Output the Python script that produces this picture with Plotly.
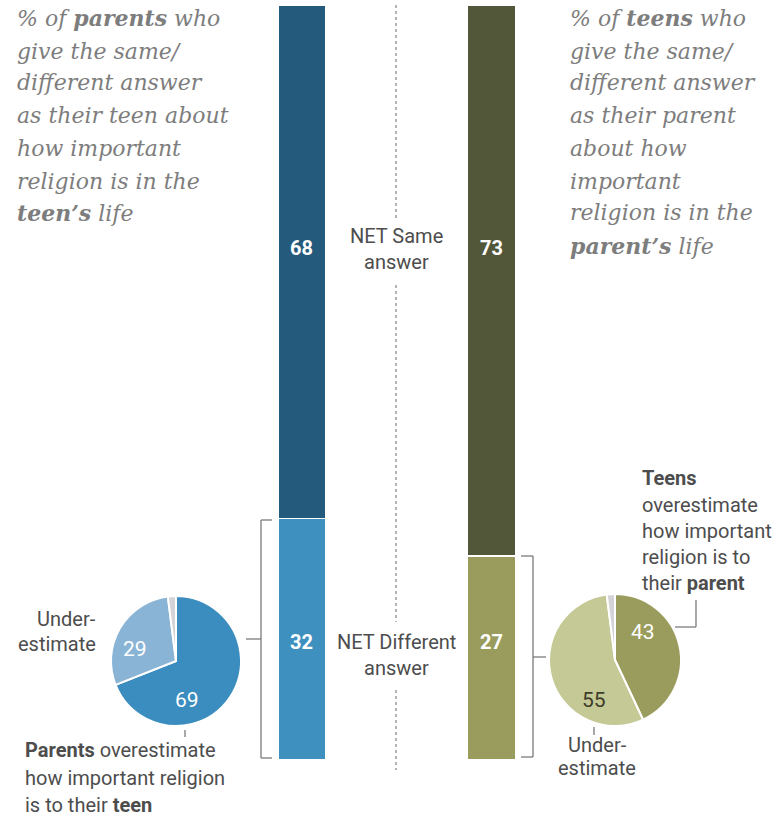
import plotly.graph_objects as go

W, H = 775, 816

# ---- data ----
groups = ["Parents", "Teens"]
net_same = [68, 73]
net_diff = [32, 27]
pie_labels = ["Overestimate", "Underestimate", "Other"]
parents_pie = [69, 29, 2]
teens_pie = [43, 55, 2]

# ---- styles ----
dark_blue, light_blue = "#245a7c", "#3e90be"
dark_olive, light_olive = "#52573a", "#999c5c"
pie_blue = ["#3b8dbf", "#89b4d5", "#d4d4d8"]
pie_olive = ["#999c5c", "#c5c995", "#d4d4d8"]
gray_line = "#7a7a7a"
title_col = "#7d7d7d"
text_col = "#4d4d4d"
SERIF = "DejaVu Serif"
SANS = "Roboto"


def px(x):
    return x / W


def py(y):
    return 1 - y / H


fig = go.Figure()

# bars (stacked): different at bottom, same on top
fig.add_trace(go.Bar(
    x=groups, y=net_diff, width=0.2533,
    marker=dict(color=[light_blue, light_olive], line=dict(color="white", width=1.5)),
    hoverinfo="skip", showlegend=False))
fig.add_trace(go.Bar(
    x=groups, y=net_same, width=0.2533,
    marker=dict(color=[dark_blue, dark_olive], line=dict(color="white", width=1.5)),
    hoverinfo="skip", showlegend=False))

# pies
fig.add_trace(go.Pie(
    values=parents_pie, labels=pie_labels, sort=False, direction="clockwise", rotation=0,
    marker=dict(colors=pie_blue, line=dict(color="white", width=2)),
    textinfo="none", hoverinfo="skip", showlegend=False,
    domain=dict(x=[px(111), px(241)], y=[py(726), py(596)])))
fig.add_trace(go.Pie(
    values=teens_pie, labels=pie_labels, sort=False, direction="clockwise", rotation=0,
    marker=dict(colors=pie_olive, line=dict(color="white", width=2)),
    textinfo="none", hoverinfo="skip", showlegend=False,
    domain=dict(x=[px(549), px(681)], y=[py(726), py(594)])))

# bar axis geometry
scale = 189.5
r0 = -302 / scale
r1 = r0 + W / scale

fig.update_layout(
    width=W, height=H, margin=dict(l=0, r=0, t=0, b=0),
    paper_bgcolor="white", plot_bgcolor="white",
    barmode="stack", showlegend=False, hovermode=False,
    xaxis=dict(range=[r0, r1], domain=[0, 1], visible=False, fixedrange=True),
    yaxis=dict(range=[0, 100], domain=[py(760), py(5)], visible=False, fixedrange=True),
)

ann = []


def add_text(x, y, text, size, color, family, xanchor="left"):
    ann.append(dict(x=px(x), y=py(y), xref="paper", yref="paper", text=text,
                    showarrow=False, xanchor=xanchor, yanchor="middle",
                    font=dict(size=size, color=color, family=family)))


# titles
left_title = ["% of <b>parents</b> who", "give the same/", "different answer",
              "as their teen about", "how important", "religion is in the",
              "<b>teen\u2019s</b> life"]
right_title = ["% of <b>teens</b> who", "give the same/", "different answer",
               "as their parent", "about how", "important", "religion is in the",
               "<b>parent\u2019s</b> life"]
ys = [18, 51, 83, 116, 148, 181, 213, 246]
for i, t in enumerate(left_title):
    add_text(15, ys[i], "<i>" + t + "</i>", 22, title_col, SERIF)
for i, t in enumerate(right_title):
    add_text(568, ys[i], "<i>" + t + "</i>", 22, title_col, SERIF)

SZ = 20
# bar value labels
add_text(301, 248, "<b>%d</b>" % net_same[0], SZ, "white", SANS, "center")
add_text(491, 248, "<b>%d</b>" % net_same[1], SZ, "white", SANS, "center")
add_text(301, 642, "<b>%d</b>" % net_diff[0], SZ, "white", SANS, "center")
add_text(491, 642, "<b>%d</b>" % net_diff[1], SZ, "white", SANS, "center")

# center labels
add_text(396, 236, "NET Same", SZ, text_col, SANS, "center")
add_text(396, 262, "answer", SZ, text_col, SANS, "center")
add_text(396, 642, "NET Different", SZ, text_col, SANS, "center")
add_text(396, 668, "answer", SZ, text_col, SANS, "center")

# pie value labels
add_text(187, 700, str(parents_pie[0]), 21, "white", SANS, "center")
add_text(135, 649, str(parents_pie[1]), 21, "white", SANS, "center")
add_text(643, 632, str(teens_pie[0]), 21, "white", SANS, "center")
add_text(594, 700, str(teens_pie[1]), 21, "#3d3d2a", SANS, "center")

# pie annotations
add_text(98, 619, "Under-", SZ, text_col, SANS, "right")
add_text(98, 644, "estimate", SZ, text_col, SANS, "right")
add_text(23, 750, "<b>Parents</b> overestimate", SZ, text_col, SANS)
add_text(23, 778, "how important religion", SZ, text_col, SANS)
add_text(23, 805, "is to their <b>teen</b>", SZ, text_col, SANS)

add_text(640, 478, "<b>Teens</b>", SZ, text_col, SANS)
add_text(640, 505, "overestimate", SZ, text_col, SANS)
add_text(640, 531, "how important", SZ, text_col, SANS)
add_text(640, 557, "religion is to", SZ, text_col, SANS)
add_text(640, 583, "their <b>parent</b>", SZ, text_col, SANS)
add_text(597, 745, "Under-", SZ, text_col, SANS, "center")
add_text(597, 768, "estimate", SZ, text_col, SANS, "center")

fig.update_layout(annotations=ann)

shapes = []


def line(x0, y0, x1, y1, color=gray_line, width=1.3, dash="solid"):
    shapes.append(dict(type="line", xref="paper", yref="paper",
                       x0=px(x0), y0=py(y0), x1=px(x1), y1=py(y1),
                       line=dict(color=color, width=width, dash=dash)))


# dotted divider
for a, b in [(5, 218), (285, 622), (690, 770)]:
    line(396, a, 396, b, color="#9a9a9a", width=1.5, dash="dot")

# left bracket
line(261, 520, 261, 758)
line(261, 520, 272, 520)
line(261, 758, 272, 758)
line(246, 639, 261, 639)
# right bracket
line(533, 556, 533, 757)
line(521, 556, 533, 556)
line(521, 757, 533, 757)
line(533, 657, 546, 657)
# pie leaders
line(185, 730, 185, 737)
line(594, 727, 594, 735)
line(675, 627, 696, 627)
line(696, 627, 696, 600)

fig.update_layout(shapes=shapes)

fig.write_html(
    "out.html",
    config={"displayModeBar": False, "staticPlot": True},
    post_script="document.body.style.margin='0';document.body.style.overflow='hidden';",
)
